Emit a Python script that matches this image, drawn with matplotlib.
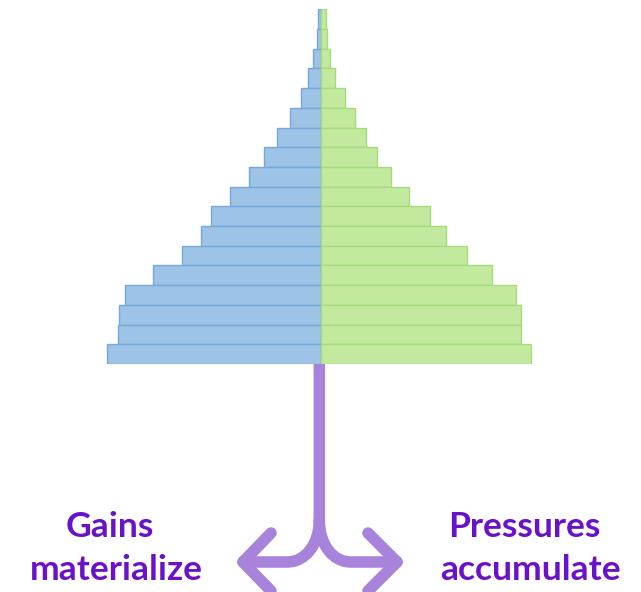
import matplotlib
matplotlib.use("Agg")
import matplotlib.pyplot as plt
from matplotlib.path import Path
from matplotlib.patches import PathPatch
import numpy as np

# Data (top row -> bottom row), bar lengths in chart units
groups = list(range(18))
left_values = [3, 3.7, 8, 12.7, 20, 31, 43.7, 56.7, 72, 91, 109.7, 120,
               138.7, 167.7, 196, 202, 203, 213.7]
right_values = [5, 6.3, 9.6, 14.6, 24.3, 34, 45, 56.6, 70, 88, 109.3, 125.3,
                146, 171.3, 195.6, 200, 200.3, 210.6]
labels = ["Gains\nmaterialize", "Pressures\naccumulate"]

W, H = 641, 592
fig = plt.figure(figsize=(W / 100, H / 100), dpi=100)
fig.patch.set_facecolor("white")

# Overlay axes in pixel coordinates for the arrow and labels (drawn below the pyramid)
ov = fig.add_axes([0, 0, 1, 1])
ov.set_xlim(0, W)
ov.set_ylim(H, 0)
ov.axis("off")
ov.set_zorder(1)

# Pyramid axes
cx = 320.7
top_px, bot_px = 9.3, 364.0
ax = fig.add_axes([0, (H - bot_px) / H, 1, (bot_px - top_px) / H])
ax.set_zorder(2)
ax.patch.set_alpha(0)
ax.set_xlim(-cx, W - cx)
ax.set_ylim(len(groups) - 0.5, -0.5)
ax.barh(groups, [-v for v in left_values], height=1.0, color="#9DC3E6",
        edgecolor="#78A9DC", linewidth=1.0)
ax.barh(groups, right_values, height=1.0, color="#C3E99F",
        edgecolor="#A5DA7E", linewidth=1.0)
ax.axis("off")

purple = "#A883DC"
lw = 8.3
sx = 319.3
verts = [(sx, 360), (sx, 520), (sx, 545), (305, 562), (287, 562), (243, 562)]
codes = [Path.MOVETO, Path.LINETO, Path.CURVE4, Path.CURVE4, Path.CURVE4, Path.LINETO]
ov.add_patch(PathPatch(Path(verts, codes), fill=False, edgecolor=purple, lw=lw,
                       capstyle="round", joinstyle="round"))
verts = [(sx, 520), (sx, 545), (333, 562), (351, 562), (397, 562)]
codes = [Path.MOVETO, Path.CURVE4, Path.CURVE4, Path.CURVE4, Path.LINETO]
ov.add_patch(PathPatch(Path(verts, codes), fill=False, edgecolor=purple, lw=lw,
                       capstyle="round", joinstyle="round"))
for pts in ([(271, 533), (243, 562), (271, 591)], [(368, 533), (397, 562), (368, 591)]):
    ov.add_patch(PathPatch(Path(pts), fill=False, edgecolor=purple, lw=lw,
                           capstyle="round", joinstyle="round"))

tc = "#6A12C9"
fs = 25.5
l0, l1 = labels[0].split("\n")
r0, r1 = labels[1].split("\n")
kw = dict(ha="center", va="baseline", fontsize=fs, fontweight="bold", color=tc, family="Lato")
ov.text(110, 537, l0, **kw)
ov.text(116, 580, l1, **kw)
ov.text(524, 537, r0, **kw)
ov.text(530, 580, r1, **kw)

fig.savefig("out.png", dpi=100, facecolor="white")
